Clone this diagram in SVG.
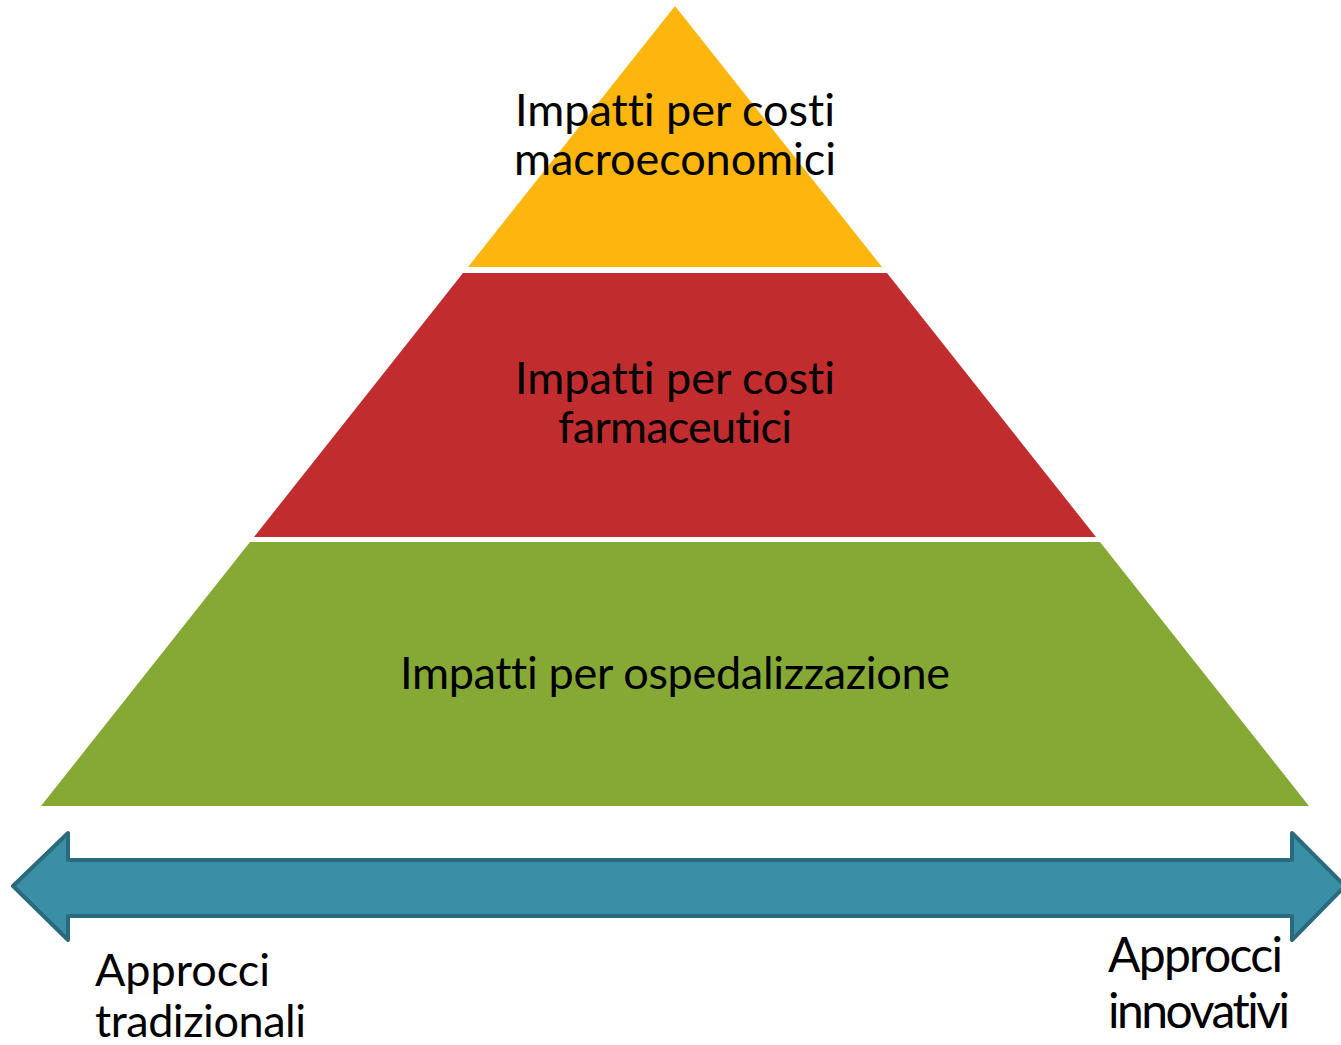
<svg xmlns="http://www.w3.org/2000/svg" width="1341" height="1045" viewBox="0 0 1341 1045">
<style>
.t{font-family:Lato,"Open Sans","Liberation Sans",sans-serif;font-size:45px;fill:#000;font-variant-ligatures:none;font-feature-settings:"liga" 0,"clig" 0;}
.r{font-size:48px;}
</style>
<rect width="1341" height="1045" fill="#fff"/>
<g id="top">
<polygon points="675,6 882,267 468,267" fill="#FDB60D"/>
<text class="t" x="675" y="126" text-anchor="middle" textLength="320">Impatti per costi</text>
<text class="t" x="675" y="175" text-anchor="middle" textLength="322">macroeconomici</text>
</g>
<g id="middle">
<polygon points="463,273 887,273 1096,537 254,537" fill="#C12C2F"/>
<text class="t" x="675" y="394" text-anchor="middle" textLength="320">Impatti per costi</text>
<text class="t" x="675" y="443" text-anchor="middle" textLength="234">farmaceutici</text>
</g>
<g id="bottom">
<polygon points="250,542 1100,542 1309,806 41,806" fill="#86A935"/>
<text class="t" x="675" y="689" text-anchor="middle" textLength="550">Impatti per ospedalizzazione</text>
</g>
<g id="connectors">
<polygon points="13,886 68,833 68,860 1292,860 1292,833 1345,886 1292,940 1292,916 68,916 68,940" fill="#3A8FA6" stroke="#2A6A7D" stroke-width="4" stroke-linejoin="round"/>
</g>
<g id="left-label">
<text class="t" x="95" y="986" textLength="175">Approcci</text>
<text class="t" x="95" y="1037" textLength="211">tradizionali</text>
</g>
<g id="right-label">
<text class="t r" x="1108" y="972" textLength="175">Approcci</text>
<text class="t r" x="1108" y="1028" textLength="182">innovativi</text>
</g>
</svg>
